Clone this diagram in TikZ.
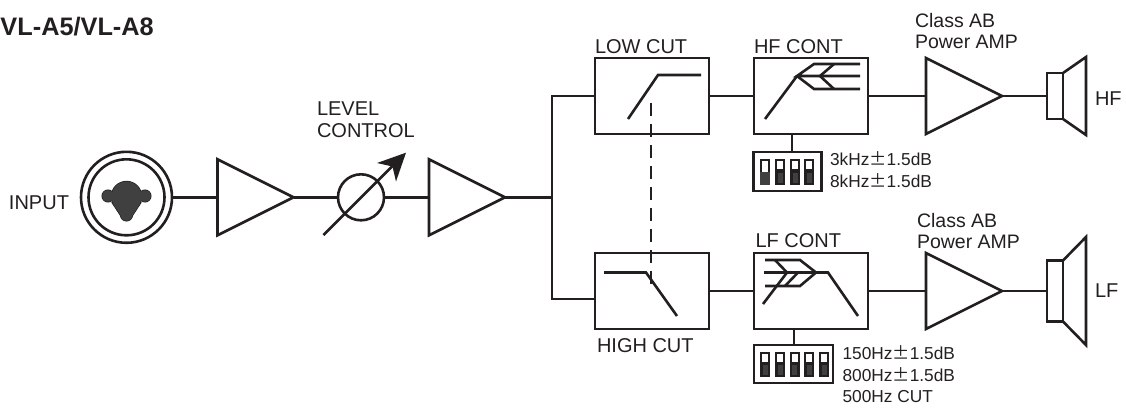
\documentclass[tikz,border=0pt]{standalone}
\usepackage{fontspec}
\setmainfont{Liberation Sans}
\newfontfamily\cjkpm{Noto Sans CJK SC}
\usetikzlibrary{shapes.geometric}
\definecolor{ink}{HTML}{231F20}
\definecolor{knob}{HTML}{404040}
\newcommand{\pmsign}{{\cjkpm ±}}
\tikzset{
  wire/.style={draw=ink,line width=2.6pt},
  filterbox/.style={rectangle,draw=ink,line width=2.7pt,minimum width=114pt,minimum height=76pt,inner sep=0pt,outer sep=0pt},
  amp/.style={isosceles triangle,isosceles triangle stretches,shape border rotate=0,draw=ink,line width=2.6pt,minimum width=76pt,minimum height=76pt,inner sep=0pt,outer sep=0pt,anchor=lower side},
  ring/.style={circle,draw=ink,line width=2.6pt,inner sep=0pt,outer sep=0pt},
  diptray/.style={rectangle,draw=ink,line width=2.6pt,inner sep=0pt,outer sep=0pt},
  lab/.style={anchor=base west,inner sep=0pt,outer sep=0pt,text=ink,font=\fontsize{20}{24}\selectfont},
  amplab/.style={lab,font=\fontsize{19.5}{21}\selectfont,align=left},
  diplab/.style={lab,font=\fontsize{17.3}{21}\selectfont},
  lobeedge/.style={draw=ink,fill=knob,line width=1.4pt},
  lobefill/.style={fill=knob},
}
\begin{document}
\begin{tikzpicture}[x=1pt,y=-1pt]
\useasboundingbox (0,0) rectangle (1126,410);
% title
\node[lab,font=\bfseries\fontsize{25.3}{28}\selectfont] (title) at (0.5,35) {VL-A5/VL-A8};
% input
\node[ring,minimum size=91pt] (inouter) at (126.5,197.3) {};
\node[ring,minimum size=76pt] (ininner) at (126.5,197.3) {};
\foreach \pass in {lobeedge,lobefill}{
  \path[\pass] (108,196) circle (5.8);
  \path[\pass] (145,196) circle (5.8);
  \path[\pass] (126.5,215) circle (5.8);
  \path[\pass] (112.5,203) -- (121,216) -- (132,216) -- (140.5,203) -- cycle;
  \path[\pass] (126.5,196.5) circle (15);
}
\node[lab] (inlab) at (9,209) {INPUT};
% preamp chain
\node[amp] (a1) at (217.5,197.3) {};
\node[ring,minimum size=46pt] (lvl) at (361,197.3) {};
\node[amp] (a2) at (429,197.3) {};
\draw[wire] (inouter.east) -- (a1.lower side);
\draw[wire] (a1.apex) -- (lvl.west);
\draw[wire] (lvl.east) -- (a2.lower side);
% level arrow
\coordinate (lvs) at (323.5,235);
\coordinate (lvt) at (396,162.5);
\draw[wire] (lvs) -- (lvt);
\fill[ink] (406,152.7) -- (377,163) -- (392.5,166.5) -- (396,181.5) -- cycle;
\node[lab] (lvlab1) at (317,115) {LEVEL};
\node[lab] (lvlab2) at (317,137) {CONTROL};
% bus
\coordinate (busT) at (552,96);
\coordinate (busM) at (552,197.3);
\coordinate (busB) at (552,298.8);
\draw[wire,line cap=rect] (busT) -- (busB);
\draw[wire] (a2.apex) -- (busM);
% filters upper
\node[filterbox] (lowcut) at (652,96) {};
\node[filterbox] (hfcont) at (811,96) {};
\draw[wire] (busT) -- (lowcut.west);
\draw[wire] (lowcut.east) -- (hfcont.west);
\node[lab] (lclab) at (595,53) {LOW CUT};
\node[lab] (hflab) at (754,53) {HF CONT};
\draw[wire,line join=miter] (628,119) -- (658,75) -- (701,75);
\draw[wire] (765,119) -- (797,76);
\draw[wire,line join=miter] (860,64) -- (814,64) -- (797,76) -- (860,76);
\draw[wire,line join=miter] (797,76) -- (814,89) -- (860,89);
\draw[wire,line join=miter] (834,64) -- (820,76) -- (834,89);
% filters lower
\node[filterbox] (highcut) at (652,291) {};
\node[filterbox] (lfcont) at (811,291) {};
\coordinate (hcin) at (highcut.west |- busB);
\draw[wire] (busB) -- (hcin);
\draw[wire] (highcut.east) -- (lfcont.west);
\node[lab] (hclab) at (597,352) {HIGH CUT};
\node[lab] (lflab) at (755.5,247) {LF CONT};
\draw[wire,line join=miter] (604,272.5) -- (646,272.5) -- (677,316);
\draw[wire,line join=miter] (858,316) -- (828,272.5) -- (764,272.5);
\draw[wire,line join=miter] (765,260) -- (800,260) -- (816,272.5) -- (800,286) -- (765,286);
\draw[wire,line join=miter] (775,260) -- (787,272.5) -- (763,304);
\draw[wire,line join=miter] (798,272.5) -- (785,286);
% dashed link
\coordinate (dashT) at (651,103);
\coordinate (dashB) at (651,287);
\draw[draw=ink,line width=1.2pt,dash pattern=on 13pt off 8pt] (dashT) -- (dashB);
% dip switches
\node[diptray,minimum width=68pt,minimum height=39pt] (dip1) at (787.5,171.5) {};
\node[diptray,minimum width=79pt,minimum height=38pt] (dip2) at (793.5,364) {};
\coordinate (d1top) at (792,152);
\coordinate (d2top) at (794,345);
\coordinate (h1) at (792,134);
\coordinate (h2) at (794,329);
\draw[wire] (h1) -- (d1top);
\draw[wire] (h2) -- (d2top);
\foreach \x in {760,775,790,804}{
  \fill[ink] (\x,158.5) rectangle ++(10,26);
  \fill[white] (\x+2,160.5) rectangle ++(6,8.5);
  \fill[knob] (\x+2.5,173) rectangle ++(5,9.5);
}
\fill[knob] (760,172) rectangle ++(10,12.5);
\fill[white] (762,160.5) rectangle ++(6,11);
\foreach \x in {760,775,789.5,804,819}{
  \fill[ink] (\x,351.5) rectangle ++(10,25.5);
  \fill[white] (\x+2,353.5) rectangle ++(6,8);
  \fill[knob] (\x+2.5,365) rectangle ++(5,10);
}
\node[diplab] (dt1) at (830,165) {3kHz\pmsign1.5dB};
\node[diplab] (dt2) at (830,187) {8kHz\pmsign1.5dB};
\node[diplab] (dt3) at (842.5,359) {150Hz\pmsign1.5dB};
\node[diplab] (dt4) at (842.5,381) {800Hz\pmsign1.5dB};
\node[diplab] (dt5) at (842.5,402) {500Hz CUT};
% power amps
\node[amp] (pa1) at (926,96) {};
\node[amp] (pa2) at (926,291) {};
\draw[wire] (hfcont.east) -- (pa1.lower side);
\draw[wire] (lfcont.east) -- (pa2.lower side);
\node[amplab] (pl1) at (915,27) {Class AB};
\node[amplab] (pl2) at (915,48) {Power AMP};
\node[amplab] (pl3) at (917,227) {Class AB};
\node[amplab] (pl4) at (917,248) {Power AMP};
% speakers
\node[diptray,minimum width=16pt,minimum height=46pt] (sp1) at (1055,96) {};
\node[diptray,minimum width=16pt,minimum height=61pt] (sp2) at (1055,291) {};
\draw[wire] (pa1.apex) -- (sp1.west);
\draw[wire] (pa2.apex) -- (sp2.west);
\draw[wire,line join=miter] (sp1.north east) -- (1086,57) -- (1086,135) -- (sp1.south east);
\draw[wire,line join=miter] (sp2.north east) -- (1086,237) -- (1086,345) -- (sp2.south east);
\node[lab] (hfl) at (1095,105) {HF};
\node[lab] (lfl) at (1095,297) {LF};
\end{tikzpicture}
\end{document}
